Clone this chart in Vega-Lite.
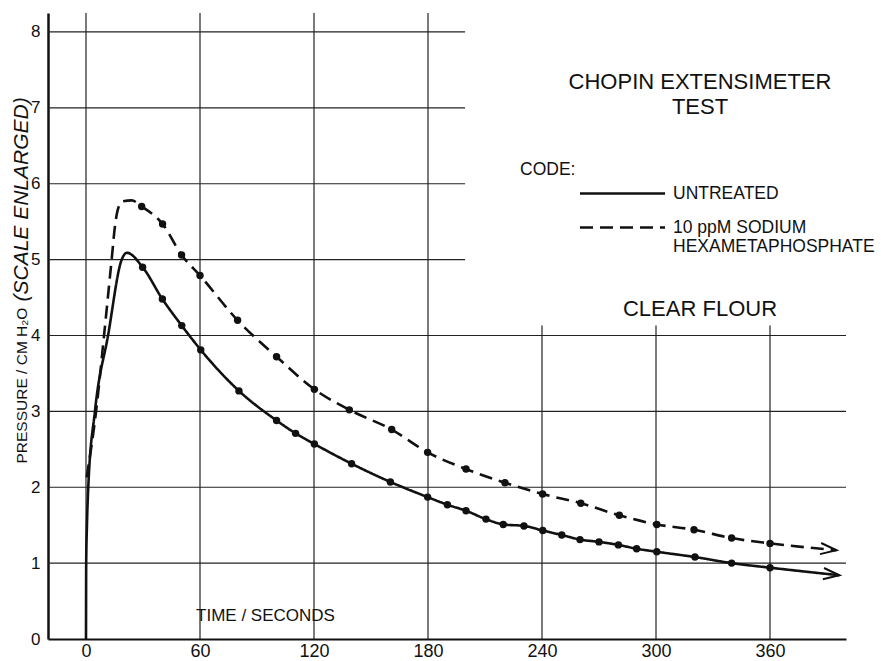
{
  "$schema": "https://vega.github.io/schema/vega-lite/v6.json",
  "width": 798,
  "height": 626,
  "autosize": {"type": "none"},
  "padding": {"left": 48, "top": 13, "right": 35, "bottom": 22},
  "background": "white",
  "config": {
    "font": "Liberation Sans",
    "view": {"stroke": null},
    "axis": {"labelColor": "#111", "titleColor": "#111", "domainColor": "#111", "ticks": false, "grid": false, "labelFont": "Liberation Sans", "titleFont": "Liberation Sans", "titleFontWeight": "normal"}
  },
  "title": {
    "text": ["CHOPIN EXTENSIMETER", "TEST"],
    "subtitle": "CLEAR FLOUR",
    "anchor": "end",
    "align": "center",
    "frame": "group",
    "dx": -146,
    "dy": 309,
    "offset": 0,
    "font": "Liberation Sans",
    "fontSize": 22,
    "fontWeight": "normal",
    "lineHeight": 25,
    "color": "#111",
    "subtitleFont": "Liberation Sans",
    "subtitleFontSize": 22,
    "subtitleColor": "#111",
    "subtitlePadding": 180
  },
  "datasets": {
    "curves": [
      {"series": "UNTREATED", "t": 0, "P": 0, "kind": "curve"},
      {"series": "UNTREATED", "t": 0.1, "P": 1.0, "kind": "curve"},
      {"series": "UNTREATED", "t": 0.5, "P": 1.5, "kind": "curve"},
      {"series": "UNTREATED", "t": 1.2, "P": 2.0, "kind": "curve"},
      {"series": "UNTREATED", "t": 4.7, "P": 3.0, "kind": "curve"},
      {"series": "UNTREATED", "t": 11.6, "P": 4.0, "kind": "curve"},
      {"series": "UNTREATED", "t": 18.8, "P": 5.0, "kind": "curve"},
      {"series": "UNTREATED", "t": 21.5, "P": 5.09, "kind": "curve"},
      {"series": "UNTREATED", "t": 29.8, "P": 4.90, "kind": "dot"},
      {"series": "UNTREATED", "t": 40.2, "P": 4.48, "kind": "dot"},
      {"series": "UNTREATED", "t": 50.4, "P": 4.13, "kind": "dot"},
      {"series": "UNTREATED", "t": 60.4, "P": 3.81, "kind": "dot"},
      {"series": "UNTREATED", "t": 80.5, "P": 3.27, "kind": "dot"},
      {"series": "UNTREATED", "t": 100.3, "P": 2.88, "kind": "dot"},
      {"series": "UNTREATED", "t": 110.3, "P": 2.71, "kind": "dot"},
      {"series": "UNTREATED", "t": 120.2, "P": 2.57, "kind": "dot"},
      {"series": "UNTREATED", "t": 139.8, "P": 2.31, "kind": "dot"},
      {"series": "UNTREATED", "t": 160.2, "P": 2.07, "kind": "dot"},
      {"series": "UNTREATED", "t": 179.8, "P": 1.87, "kind": "dot"},
      {"series": "UNTREATED", "t": 190.2, "P": 1.77, "kind": "dot"},
      {"series": "UNTREATED", "t": 200, "P": 1.69, "kind": "dot"},
      {"series": "UNTREATED", "t": 210.5, "P": 1.58, "kind": "dot"},
      {"series": "UNTREATED", "t": 219.6, "P": 1.51, "kind": "dot"},
      {"series": "UNTREATED", "t": 230.5, "P": 1.49, "kind": "dot"},
      {"series": "UNTREATED", "t": 240.4, "P": 1.43, "kind": "dot"},
      {"series": "UNTREATED", "t": 250.4, "P": 1.37, "kind": "dot"},
      {"series": "UNTREATED", "t": 260, "P": 1.31, "kind": "dot"},
      {"series": "UNTREATED", "t": 270, "P": 1.28, "kind": "dot"},
      {"series": "UNTREATED", "t": 280.2, "P": 1.24, "kind": "dot"},
      {"series": "UNTREATED", "t": 289.8, "P": 1.19, "kind": "dot"},
      {"series": "UNTREATED", "t": 300.4, "P": 1.15, "kind": "dot"},
      {"series": "UNTREATED", "t": 320.5, "P": 1.08, "kind": "dot"},
      {"series": "UNTREATED", "t": 339.8, "P": 1.00, "kind": "dot"},
      {"series": "UNTREATED", "t": 360, "P": 0.94, "kind": "dot"},
      {"series": "UNTREATED", "t": 396.5, "P": 0.84, "kind": "end"},
      {"series": "10 ppM SODIUM HEXAMETAPHOSPHATE", "t": 0.35, "P": 2.13, "kind": "curve"},
      {"series": "10 ppM SODIUM HEXAMETAPHOSPHATE", "t": 5.3, "P": 3.0, "kind": "curve"},
      {"series": "10 ppM SODIUM HEXAMETAPHOSPHATE", "t": 9.5, "P": 4.0, "kind": "curve"},
      {"series": "10 ppM SODIUM HEXAMETAPHOSPHATE", "t": 13.5, "P": 5.0, "kind": "curve"},
      {"series": "10 ppM SODIUM HEXAMETAPHOSPHATE", "t": 15.3, "P": 5.45, "kind": "curve"},
      {"series": "10 ppM SODIUM HEXAMETAPHOSPHATE", "t": 17, "P": 5.68, "kind": "curve"},
      {"series": "10 ppM SODIUM HEXAMETAPHOSPHATE", "t": 19.5, "P": 5.77, "kind": "curve"},
      {"series": "10 ppM SODIUM HEXAMETAPHOSPHATE", "t": 24, "P": 5.78, "kind": "curve"},
      {"series": "10 ppM SODIUM HEXAMETAPHOSPHATE", "t": 29.3, "P": 5.70, "kind": "dot"},
      {"series": "10 ppM SODIUM HEXAMETAPHOSPHATE", "t": 40.3, "P": 5.47, "kind": "dot"},
      {"series": "10 ppM SODIUM HEXAMETAPHOSPHATE", "t": 50.3, "P": 5.06, "kind": "dot"},
      {"series": "10 ppM SODIUM HEXAMETAPHOSPHATE", "t": 60, "P": 4.79, "kind": "dot"},
      {"series": "10 ppM SODIUM HEXAMETAPHOSPHATE", "t": 79.8, "P": 4.20, "kind": "dot"},
      {"series": "10 ppM SODIUM HEXAMETAPHOSPHATE", "t": 100.3, "P": 3.72, "kind": "dot"},
      {"series": "10 ppM SODIUM HEXAMETAPHOSPHATE", "t": 120.2, "P": 3.29, "kind": "dot"},
      {"series": "10 ppM SODIUM HEXAMETAPHOSPHATE", "t": 138.6, "P": 3.02, "kind": "dot"},
      {"series": "10 ppM SODIUM HEXAMETAPHOSPHATE", "t": 160.9, "P": 2.76, "kind": "dot"},
      {"series": "10 ppM SODIUM HEXAMETAPHOSPHATE", "t": 179.8, "P": 2.46, "kind": "dot"},
      {"series": "10 ppM SODIUM HEXAMETAPHOSPHATE", "t": 200, "P": 2.24, "kind": "dot"},
      {"series": "10 ppM SODIUM HEXAMETAPHOSPHATE", "t": 220.5, "P": 2.06, "kind": "dot"},
      {"series": "10 ppM SODIUM HEXAMETAPHOSPHATE", "t": 240.3, "P": 1.91, "kind": "dot"},
      {"series": "10 ppM SODIUM HEXAMETAPHOSPHATE", "t": 260.4, "P": 1.79, "kind": "dot"},
      {"series": "10 ppM SODIUM HEXAMETAPHOSPHATE", "t": 280.7, "P": 1.63, "kind": "dot"},
      {"series": "10 ppM SODIUM HEXAMETAPHOSPHATE", "t": 300.4, "P": 1.51, "kind": "dot"},
      {"series": "10 ppM SODIUM HEXAMETAPHOSPHATE", "t": 320, "P": 1.44, "kind": "dot"},
      {"series": "10 ppM SODIUM HEXAMETAPHOSPHATE", "t": 339.8, "P": 1.33, "kind": "dot"},
      {"series": "10 ppM SODIUM HEXAMETAPHOSPHATE", "t": 360, "P": 1.26, "kind": "dot"},
      {"series": "10 ppM SODIUM HEXAMETAPHOSPHATE", "t": 395, "P": 1.17, "kind": "end"}
    ],
    "hgrid": [
      {"P": 1, "from": -20, "to": 400},
      {"P": 2, "from": -20, "to": 400},
      {"P": 3, "from": -20, "to": 400},
      {"P": 4, "from": -20, "to": 400},
      {"P": 5, "from": -20, "to": 199.5},
      {"P": 6, "from": -20, "to": 199.5},
      {"P": 7, "from": -20, "to": 199.5},
      {"P": 8, "from": -20, "to": 199.5}
    ],
    "vgrid": [
      {"t": 0, "from": 0, "to": 8.25},
      {"t": 60, "from": 0, "to": 8.25},
      {"t": 120, "from": 0, "to": 8.25},
      {"t": 180, "from": 0, "to": 8.25},
      {"t": 240, "from": 0, "to": 4.13},
      {"t": 300, "from": 0, "to": 4.13},
      {"t": 360, "from": 0, "to": 4.13}
    ]
  },
  "layer": [
    {
      "data": {"name": "hgrid"},
      "mark": {"type": "rule", "color": "#222", "strokeWidth": 1.2},
      "encoding": {
        "y": {
          "field": "P", "type": "quantitative",
          "scale": {"domain": [0, 8.25], "nice": false, "zero": false},
          "axis": {
            "orient": "left",
            "values": [0, 1, 2, 3, 4, 5, 6, 7, 8],
            "title": "PRESSURE / CM H₂O",
            "titleAngle": 270, "titleX": -27, "titleY": 450,
            "titleAlign": "left", "titleBaseline": "middle",
            "titleFontSize": 15.5,
            "labelFontSize": 17, "labelPadding": 8, "labelFlush": false,
            "domainWidth": 2.5, "ticks": false, "grid": false
          }
        },
        "x": {
          "field": "from", "type": "quantitative",
          "scale": {"domain": [-20, 400], "nice": false, "zero": false},
          "axis": {
            "orient": "bottom",
            "values": [0, 60, 120, 180, 240, 300, 360],
            "title": "TIME / SECONDS",
            "titleX": 217, "titleY": -24,
            "titleAlign": "center", "titleBaseline": "middle",
            "titleFontSize": 17,
            "labelFontSize": 18, "labelPadding": 3, "labelFlush": false, "labelOverlap": false,
            "domainWidth": 2, "ticks": false, "grid": false
          }
        },
        "x2": {"field": "to"}
      }
    },
    {
      "data": {"name": "vgrid"},
      "mark": {"type": "rule", "color": "#222", "strokeWidth": 1.2},
      "encoding": {
        "x": {"field": "t", "type": "quantitative"},
        "y": {"field": "from", "type": "quantitative", "axis": null},
        "y2": {"field": "to"}
      }
    },
    {
      "data": {"name": "curves"},
      "mark": {"type": "line", "interpolate": "monotone", "color": "#111", "strokeWidth": 2.6},
      "encoding": {
        "x": {"field": "t", "type": "quantitative"},
        "y": {"field": "P", "type": "quantitative", "axis": null},
        "strokeDash": {
          "field": "series", "type": "nominal",
          "scale": {"domain": ["UNTREATED", "10 ppM SODIUM HEXAMETAPHOSPHATE"], "range": [[1, 0], [13, 7]]},
          "legend": {
            "title": "CODE:",
            "orient": "none", "legendX": 472, "legendY": 148,
            "direction": "vertical",
            "symbolType": "M0,0H10", "symbolSize": 289, "symbolStrokeWidth": 2.5, "symbolStrokeColor": "#111",
            "symbolOffset": 50, "labelOffset": 83,
            "labelFont": "Liberation Sans", "labelFontSize": 17.5, "labelColor": "#111", "labelLimit": 0, "labelLineHeight": 20,
            "labelExpr": "datum.label === 'UNTREATED' ? datum.label : ['10 ppM SODIUM', 'HEXAMETAPHOSPHATE']",
            "titleFont": "Liberation Sans", "titleFontSize": 17.5, "titleFontWeight": "normal", "titleColor": "#111",
            "titlePadding": 5, "rowPadding": 15, "padding": 0
          }
        }
      }
    },
    {
      "data": {"name": "curves"},
      "transform": [{"filter": "datum.kind === 'dot'"}],
      "mark": {"type": "point", "filled": true, "color": "#111", "size": 55, "opacity": 1},
      "encoding": {
        "x": {"field": "t", "type": "quantitative"},
        "y": {
          "field": "P", "type": "quantitative",
          "axis": {
            "orient": "left",
            "title": "(SCALE ENLARGED)",
            "titleFontStyle": "italic",
            "titleAngle": 270, "titleX": -27, "titleY": 288,
            "titleAlign": "left", "titleBaseline": "middle",
            "titleFontSize": 21,
            "labels": false, "ticks": false, "domain": false, "grid": false
          }
        }
      }
    },
    {
      "data": {"name": "curves"},
      "transform": [{"filter": "datum.kind === 'end'"}],
      "mark": {"type": "point", "shape": "M-2,-0.7L0,0L-2,0.7", "filled": false, "stroke": "#111", "strokeWidth": 2, "size": 256, "angle": 6, "opacity": 1},
      "encoding": {
        "x": {"field": "t", "type": "quantitative"},
        "y": {"field": "P", "type": "quantitative", "axis": null}
      }
    }
  ],
  "resolve": {"axis": {"y": "independent"}}
}
